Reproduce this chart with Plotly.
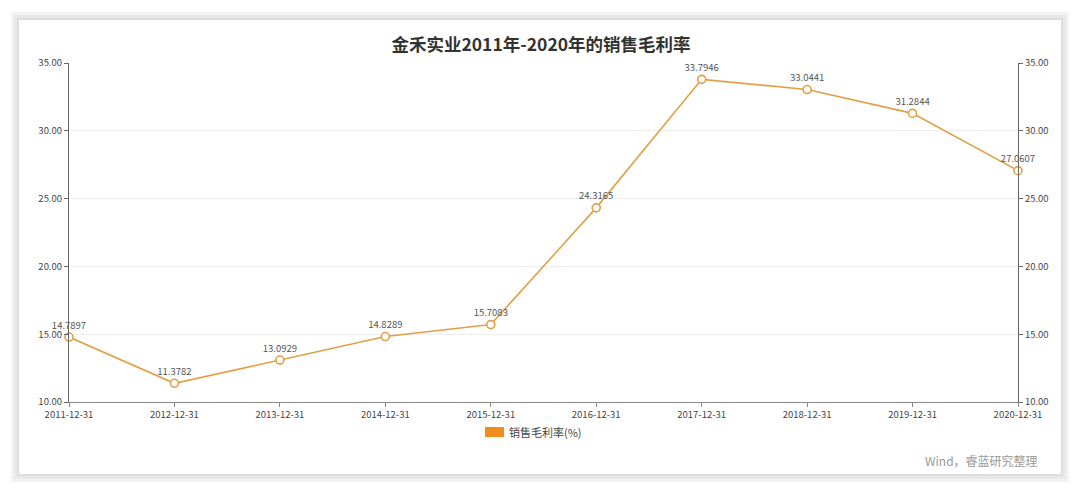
import plotly.graph_objects as go

# data
dates = ["2011-12-31", "2012-12-31", "2013-12-31", "2014-12-31", "2015-12-31",
         "2016-12-31", "2017-12-31", "2018-12-31", "2019-12-31", "2020-12-31"]
margin_rate = [14.7897, 11.3782, 13.0929, 14.8289, 15.7083,
               24.3165, 33.7946, 33.0441, 31.2844, 27.0607]
labels = ["14.7897", "11.3782", "13.0929", "14.8289", "15.7083",
          "24.3165", "33.7946", "33.0441", "31.2844", "27.0607"]
y_ticks = [10, 15, 20, 25, 30, 35]
series_name = "销售毛利率(%)"

# the page puts the figure 8px in from the top-left corner of the window
O = 8
W, H = 1080 - O, 492 - O
L, R, T, B = 69, 1018, 63, 402  # plot area, in window pixels

def px(x):
    return (x - L) / (R - L)

def py(y):
    return (B - y) / (B - T)

font = "Noto Sans CJK SC"
line_color = "#E2A046"

fig = go.Figure()
fig.add_trace(go.Scatter(
    x=dates, y=margin_rate, mode="lines+markers+text",
    text=labels, textposition="top center",
    textfont=dict(size=9.5, color="#555", family=font),
    line=dict(color=line_color, width=1.6),
    marker=dict(symbol="circle", size=8, color="white",
                line=dict(color=line_color, width=1.6)),
    showlegend=False, cliponaxis=False,
))
# same series on the right axis (invisible), to carry the mirrored ticks
fig.add_trace(go.Scatter(x=dates, y=margin_rate, yaxis="y2", mode="lines",
                         line=dict(width=0), hoverinfo="skip", showlegend=False))

axis_font = dict(size=9.5, color="#444", family=font)
fig.update_layout(
    width=W, height=H,
    margin=dict(l=L - O, r=W - (R - O), t=T - O, b=H - (B - O)),
    paper_bgcolor="white", plot_bgcolor="white",
    font=dict(family=font),
    title=dict(text="<b>金禾实业2011年-2020年的销售毛利率</b>",
               x=(541 - O) / W, xanchor="center", y=1 - (45 - O) / H, yanchor="middle",
               font=dict(size=17.5, color="#333", family=font)),
    xaxis=dict(type="category", range=[0, 9], showgrid=False,
               showline=True, linecolor="#888", linewidth=1,
               ticks="outside", ticklen=4, tickcolor="#888",
               tickfont=axis_font),
    yaxis=dict(range=[10, 35], tickvals=y_ticks, tickformat=".2f",
               showgrid=True, gridcolor="#eeeeee", zeroline=False,
               showline=True, linecolor="#666", linewidth=1,
               ticks="outside", ticklen=4, tickcolor="#666",
               tickfont=axis_font),
    yaxis2=dict(range=[10, 35], tickvals=y_ticks, tickformat=".2f",
                overlaying="y", side="right", showgrid=False, zeroline=False,
                showline=True, linecolor="#666", linewidth=1,
                ticks="outside", ticklen=4, tickcolor="#666",
                tickfont=axis_font),
    showlegend=False,
)

# card with a soft grey shadow around it
for pad, col in [(8, "#f3f3f3"), (5, "#e8e8e8"), (2, "#dddddd")]:
    fig.add_shape(type="rect", xref="paper", yref="paper", layer="below",
                  x0=px(19 - pad), x1=px(1061 + pad), y0=py(474 + pad), y1=py(20 - pad),
                  line=dict(width=0), fillcolor=col)
fig.add_shape(type="rect", xref="paper", yref="paper", layer="below",
              x0=px(19), x1=px(1061), y0=py(474), y1=py(20),
              line=dict(width=0), fillcolor="white")

# legend: wide orange box and the series name
fig.add_shape(type="rect", xref="paper", yref="paper",
              x0=px(485), x1=px(504), y0=py(437), y1=py(427),
              line=dict(width=0), fillcolor="#F28C1E")
fig.add_annotation(text=series_name, xref="paper", yref="paper",
                   x=px(507), y=py(432), xanchor="left", yanchor="middle",
                   showarrow=False, font=dict(size=11, color="#444", family=font))

fig.add_annotation(text="Wind，睿蓝研究整理", xref="paper", yref="paper",
                   x=px(1040), y=py(461), xanchor="right", yanchor="middle",
                   showarrow=False, font=dict(size=12, color="#999", family=font))

fig.write_html("out.html")
